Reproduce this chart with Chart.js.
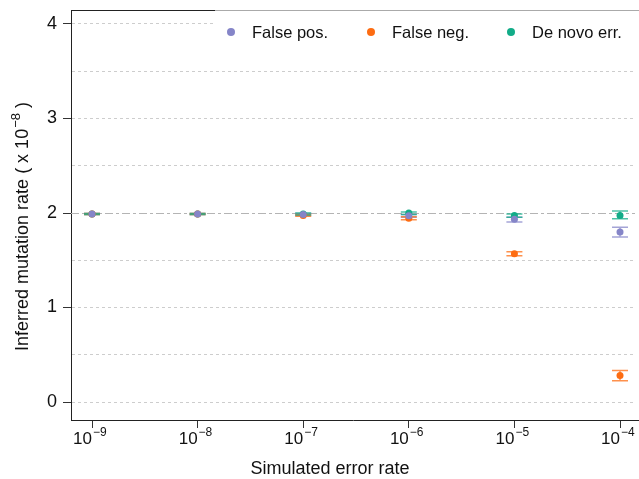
<!DOCTYPE html>
<html>
<head>
<meta charset="utf-8">
<script src="https://cdn.jsdelivr.net/npm/chart.js@4.4.1/dist/chart.umd.min.js"></script>
<style>
  html, body { margin: 0; padding: 0; background: #fff; }
  #wrap { width: 639px; height: 479px; }
</style>
</head>
<body>
<div id="wrap"><canvas id="rates"></canvas></div>
<script>
// log10 of simulated error rate
const errorRates = [-9, -8, -7, -6, -5, -4];
const xTickExponents = ['\u22129', '\u22128', '\u22127', '\u22126', '\u22125', '\u22124'];
const yTicks = [0, 0.5, 1, 1.5, 2, 2.5, 3, 3.5, 4];
const trueRate = 2;

const seriesNames = ['False pos.', 'False neg.', 'De novo err.'];

const falsePos = [1.99, 1.99, 1.985, 1.97, 1.935, 1.80];
const falsePosLow = [1.985, 1.985, 1.975, 1.955, 1.905, 1.745];
const falsePosHigh = [1.995, 1.995, 1.995, 1.985, 1.955, 1.85];

const falseNeg = [1.99, 1.99, 1.975, 1.945, 1.57, 0.28];
const falseNegLow = [1.985, 1.985, 1.965, 1.93, 1.548, 0.225];
const falseNegHigh = [1.995, 1.995, 1.985, 1.96, 1.59, 0.335];

const deNovo = [1.99, 1.99, 1.99, 2.0, 1.975, 1.975];
const deNovoLow = [1.985, 1.985, 1.98, 1.985, 1.955, 1.94];
const deNovoHigh = [1.995, 1.995, 2.0, 2.01, 1.99, 2.02];

const colors = ['#8585c8', '#fd6c12', '#12ac88'];
const barColors = ['rgba(133,133,200,0.75)', 'rgba(253,108,18,0.75)', 'rgba(18,172,136,0.75)'];

const means = [falsePos, falseNeg, deNovo];
const lows = [falsePosLow, falseNegLow, deNovoLow];
const highs = [falsePosHigh, falseNegHigh, deNovoHigh];

const FONT = 'Liberation Sans, Arial, Helvetica, sans-serif';

const backdrop = {
    id: 'backdrop',
    beforeDatasetsDraw(chart) {
        const ctx = chart.ctx;
        const area = chart.chartArea;
        const x = chart.scales.x, y = chart.scales.y;
        // true rate reference line
        const yr = Math.round(y.getPixelForValue(trueRate)) + 0.5;
        ctx.save();
        ctx.strokeStyle = '#b4b4b4';
        ctx.lineWidth = 1;
        ctx.setLineDash([8, 3, 3, 3]);
        ctx.beginPath();
        ctx.moveTo(area.left, yr);
        ctx.lineTo(area.right, yr);
        ctx.stroke();
        ctx.restore();
        // legend box covers grid
        ctx.save();
        ctx.fillStyle = '#fff';
        ctx.fillRect(215, area.top, 639 - 215, 38);
        ctx.restore();
        // error bars
        ctx.save();
        ctx.lineWidth = 1.5;
        for (let s = 0; s < 3; s++) {
            ctx.strokeStyle = barColors[s];
            for (let i = 0; i < errorRates.length; i++) {
                const px = x.getPixelForValue(errorRates[i]);
                const lo = y.getPixelForValue(lows[s][i]);
                const hi = y.getPixelForValue(highs[s][i]);
                ctx.beginPath();
                ctx.moveTo(px, lo); ctx.lineTo(px, hi);
                ctx.moveTo(px - 8, lo); ctx.lineTo(px + 8, lo);
                ctx.moveTo(px - 8, hi); ctx.lineTo(px + 8, hi);
                ctx.stroke();
            }
        }
        ctx.restore();
    },
    afterDraw(chart) {
        const ctx = chart.ctx;
        const area = chart.chartArea;
        const x = chart.scales.x;
        ctx.save();
        // top frame
        ctx.strokeStyle = '#222';
        ctx.lineWidth = 1;
        ctx.beginPath();
        ctx.moveTo(area.left, area.top + 0.5);
        ctx.lineTo(215, area.top + 0.5);
        ctx.stroke();
        ctx.strokeStyle = '#aaa';
        ctx.beginPath();
        ctx.moveTo(215, area.top + 0.5);
        ctx.lineTo(639, area.top + 0.5);
        ctx.stroke();
        // bottom axis runs to the edge
        ctx.strokeStyle = '#222';
        ctx.beginPath();
        ctx.moveTo(area.right - 1, area.bottom + 0.5);
        ctx.lineTo(639, area.bottom + 0.5);
        ctx.stroke();

        // legend
        const legendDots = [231, 371, 511];
        ctx.font = '16.5px ' + FONT;
        ctx.textBaseline = 'middle';
        ctx.textAlign = 'left';
        for (let s = 0; s < 3; s++) {
            ctx.fillStyle = colors[s];
            ctx.beginPath();
            ctx.arc(legendDots[s], 32, 4, 0, Math.PI * 2);
            ctx.fill();
            ctx.fillStyle = '#111';
            ctx.fillText(seriesNames[s], legendDots[s] + 21, 33);
        }

        // x tick labels with exponents
        ctx.fillStyle = '#111';
        ctx.textBaseline = 'alphabetic';
        for (let i = 0; i < errorRates.length; i++) {
            const px = x.getPixelForValue(errorRates[i]);
            ctx.font = '17px ' + FONT;
            ctx.textAlign = 'right';
            ctx.fillText('10', px, 444);
            ctx.font = '12px ' + FONT;
            ctx.textAlign = 'left';
            ctx.fillText(xTickExponents[i], px + 1, 436);
        }

        // x title
        ctx.font = '18px ' + FONT;
        ctx.textAlign = 'center';
        ctx.fillText('Simulated error rate', 330, 474);

        // y title, rotated
        ctx.translate(28, 227);
        ctx.rotate(-Math.PI / 2);
        const mainText = 'Inferred mutation rate ( x 10';
        const supText = '\u22128';
        const tailText = ' )';
        ctx.font = '18px ' + FONT;
        const w1 = ctx.measureText(mainText).width;
        const w3 = ctx.measureText(tailText).width;
        ctx.font = '13px ' + FONT;
        const w2 = ctx.measureText(supText).width;
        let cx = -(w1 + w2 + w3) / 2;
        ctx.textAlign = 'left';
        ctx.font = '18px ' + FONT;
        ctx.fillText(mainText, cx, 0);
        ctx.font = '13px ' + FONT;
        ctx.fillText(supText, cx + w1 + 1, -8);
        ctx.font = '18px ' + FONT;
        ctx.fillText(tailText, cx + w1 + w2 + 1, 0);
        ctx.restore();
    }
};

const datasets = seriesNames.map(function(name, s) {
    return {
        label: name,
        data: errorRates.map(function(r, i) { return { x: r, y: means[s][i] }; }),
        backgroundColor: colors[s],
        borderColor: colors[s],
        borderWidth: 0,
        pointRadius: 3.5,
        showLine: false,
    };
});

function noPad(scale) {
    scale.paddingTop = 0;
    scale.paddingBottom = 0;
    scale.paddingLeft = 0;
    scale.paddingRight = 0;
}

new Chart(document.getElementById('rates'), {
    type: 'scatter',
    data: { datasets: datasets },
    plugins: [backdrop],
    options: {
        responsive: true,
        maintainAspectRatio: false,
        animation: false,
        layout: { padding: { top: 10, right: 0, left: 0, bottom: 0 } },
        plugins: {
            legend: { display: false },
            tooltip: { enabled: false },
        },
        scales: {
            x: {
                type: 'linear',
                min: -9.199,
                max: -3.858,
                afterBuildTicks: function(scale) {
                    scale.ticks = errorRates.map(function(v) { return { value: v }; });
                },
                afterFit: function(scale) { scale.height = 59; noPad(scale); },
                grid: {
                    drawOnChartArea: false,
                    tickLength: 8,
                    tickColor: '#333',
                },
                border: { color: '#222', width: 1 },
                ticks: { callback: function() { return ''; } },
            },
            y: {
                min: -0.19,
                max: 4.148,
                afterBuildTicks: function(scale) {
                    scale.ticks = yTicks.map(function(v) { return { value: v }; });
                },
                afterFit: function(scale) { scale.width = 71; noPad(scale); },
                grid: {
                    color: function(ctx) {
                        return ctx.tick && ctx.tick.value === trueRate ? 'rgba(0,0,0,0)' : '#cdcdcd';
                    },
                    tickLength: 8,
                    tickColor: function(ctx) {
                        return ctx.tick && Number.isInteger(ctx.tick.value) ? '#333' : 'rgba(0,0,0,0)';
                    },
                    tickBorderDash: [],
                },
                border: { color: '#222', width: 1, dash: [3, 3] },
                ticks: {
                    color: '#111',
                    padding: 6,
                    font: { family: FONT, size: 18 },
                    callback: function(value) {
                        return Number.isInteger(value) ? String(value) : '';
                    },
                },
            },
        },
    },
});
</script>
</body>
</html>
